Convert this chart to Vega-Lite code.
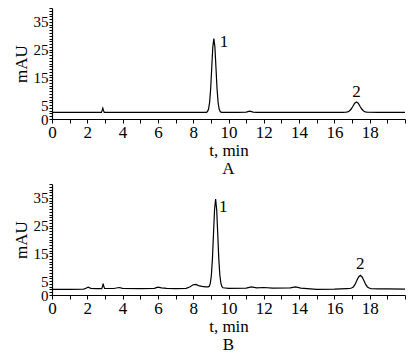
{
  "$schema": "https://vega.github.io/schema/vega-lite/v6.json",
  "padding": {"left": 12, "top": 1, "right": 0, "bottom": 0},
  "background": "white",
  "spacing": 0,
  "config": {
    "font": "Liberation Serif",
    "view": {"stroke": null},
    "axis": {
      "domainColor": "black", "tickColor": "black", "labelColor": "black", "titleColor": "black",
      "labelFont": "Liberation Serif", "titleFont": "Liberation Serif",
      "labelFontSize": 17, "titleFontSize": 17, "titleFontWeight": "normal", "grid": false,
      "labelOverlap": false, "labelBound": false, "tickWidth": 1, "domainWidth": 1.2
    },
    "title": {"font": "Liberation Serif", "fontSize": 17, "fontWeight": "normal", "color": "black"}
  },
  "datasets": {
    "A": [
      {"t": 0, "v": 2.4}, {"t": 1, "v": 2.4}, {"t": 2, "v": 2.4}, {"t": 2.8, "v": 2.4}, {"t": 2.85, "v": 3.2}, {"t": 2.88, "v": 3.9}, {"t": 2.92, "v": 3.0}, {"t": 2.96, "v": 2.4},
      {"t": 4, "v": 2.4}, {"t": 6, "v": 2.4}, {"t": 8, "v": 2.4},
      {"t": 8.75, "v": 2.4}, {"t": 8.81, "v": 2.7}, {"t": 8.87, "v": 3.6}, {"t": 8.93, "v": 6.0}, {"t": 8.99, "v": 11.0}, {"t": 9.05, "v": 18.5}, {"t": 9.11, "v": 25.9}, {"t": 9.17, "v": 29.0}, {"t": 9.23, "v": 25.9}, {"t": 9.29, "v": 18.5}, {"t": 9.35, "v": 11.0}, {"t": 9.41, "v": 6.0}, {"t": 9.47, "v": 3.6}, {"t": 9.53, "v": 2.7}, {"t": 9.59, "v": 2.4},
      {"t": 10.5, "v": 2.4}, {"t": 11.0, "v": 2.5}, {"t": 11.2, "v": 2.8}, {"t": 11.4, "v": 2.5}, {"t": 11.6, "v": 2.4}, {"t": 14, "v": 2.4}, {"t": 16.5, "v": 2.4},
      {"t": 16.65, "v": 2.45}, {"t": 16.75, "v": 2.56}, {"t": 16.85, "v": 2.9}, {"t": 16.95, "v": 3.6}, {"t": 17.05, "v": 4.6}, {"t": 17.15, "v": 5.7}, {"t": 17.25, "v": 6.1}, {"t": 17.35, "v": 5.7}, {"t": 17.45, "v": 4.6}, {"t": 17.55, "v": 3.6}, {"t": 17.65, "v": 2.9}, {"t": 17.75, "v": 2.56}, {"t": 17.85, "v": 2.45},
      {"t": 18.5, "v": 2.4}, {"t": 20, "v": 2.4}
    ],
    "B": [
      {"t": 0, "v": 2.0}, {"t": 1.0, "v": 2.05}, {"t": 1.8, "v": 2.1}, {"t": 1.95, "v": 2.5}, {"t": 2.05, "v": 2.8}, {"t": 2.2, "v": 2.4}, {"t": 2.5, "v": 2.3}, {"t": 2.82, "v": 2.3}, {"t": 2.87, "v": 3.3}, {"t": 2.9, "v": 4.1}, {"t": 2.94, "v": 3.0}, {"t": 2.98, "v": 2.4},
      {"t": 3.5, "v": 2.35}, {"t": 3.8, "v": 2.7}, {"t": 4.0, "v": 2.4}, {"t": 5.0, "v": 2.3}, {"t": 5.8, "v": 2.4}, {"t": 6.0, "v": 2.8}, {"t": 6.2, "v": 2.6}, {"t": 6.5, "v": 2.4}, {"t": 7.0, "v": 2.3}, {"t": 7.6, "v": 2.4}, {"t": 7.8, "v": 2.9}, {"t": 8.0, "v": 3.7}, {"t": 8.15, "v": 3.8}, {"t": 8.3, "v": 3.4}, {"t": 8.5, "v": 3.1}, {"t": 8.7, "v": 2.9},
      {"t": 8.85, "v": 2.95}, {"t": 8.91, "v": 3.15}, {"t": 8.97, "v": 4.2}, {"t": 9.03, "v": 7.1}, {"t": 9.09, "v": 13.1}, {"t": 9.15, "v": 22.1}, {"t": 9.21, "v": 30.8}, {"t": 9.27, "v": 34.6}, {"t": 9.33, "v": 30.8}, {"t": 9.39, "v": 22.1}, {"t": 9.45, "v": 13.1}, {"t": 9.51, "v": 7.1}, {"t": 9.57, "v": 4.2}, {"t": 9.63, "v": 3.0}, {"t": 9.69, "v": 2.6},
      {"t": 10.0, "v": 2.4}, {"t": 11.0, "v": 2.5}, {"t": 11.3, "v": 2.9}, {"t": 11.6, "v": 2.6}, {"t": 12.0, "v": 2.7}, {"t": 12.5, "v": 2.5}, {"t": 13.5, "v": 2.6}, {"t": 13.8, "v": 2.9}, {"t": 14.1, "v": 2.5}, {"t": 15.0, "v": 2.0}, {"t": 16.0, "v": 2.1}, {"t": 16.7, "v": 2.3},
      {"t": 16.87, "v": 2.35}, {"t": 16.97, "v": 2.5}, {"t": 17.07, "v": 2.9}, {"t": 17.17, "v": 3.8}, {"t": 17.27, "v": 5.2}, {"t": 17.37, "v": 6.5}, {"t": 17.47, "v": 7.1}, {"t": 17.57, "v": 6.5}, {"t": 17.67, "v": 5.2}, {"t": 17.77, "v": 3.8}, {"t": 17.87, "v": 2.9}, {"t": 17.97, "v": 2.5}, {"t": 18.07, "v": 2.3},
      {"t": 18.5, "v": 2.2}, {"t": 19, "v": 2.2}, {"t": 20, "v": 2.1}
    ],
    "LA": [{"t": 9.75, "v": 27.7, "label": "1"}, {"t": 17.25, "v": 9.8, "label": "2"}],
    "LB": [{"t": 9.7, "v": 31.8, "label": "1"}, {"t": 17.47, "v": 11.3, "label": "2"}]
  },
  "vconcat": [
    {
      "width": 353, "height": 111,
      "title": {"text": "A", "orient": "bottom", "offset": 3},
      "encoding": {
        "x": {"field": "t", "type": "quantitative", "scale": {"domain": [0, 20], "nice": false, "zero": false},
              "axis": {"title": "t, min", "format": "d", "values": [0,0.5,1,1.5,2,2.5,3,3.5,4,4.5,5,5.5,6,6.5,7,7.5,8,8.5,9,9.5,10,10.5,11,11.5,12,12.5,13,13.5,14,14.5,15,15.5,16,16.5,17,17.5,18,18.5,19,19.5,20],
                       "labelExpr": "datum.value % 2 == 0 && datum.value < 20 ? datum.label : ''", "labelOverlap": false, "tickSize": 4, "tickColor": "black", "ticks": true, "labelPadding": 1, "titlePadding": 2, "labelFlush": false}},
        "y": {"field": "v", "type": "quantitative", "scale": {"domain": [0, 40], "nice": false},
              "axis": {"title": "mAU", "format": "d", "labelFontSize": 15, "values": [0,1,2,3,4,5,6,7,8,9,10,11,12,13,14,15,16,17,18,19,20,21,22,23,24,25,26,27,28,29,30,31,32,33,34,35,36,37,38,39,40],
                       "labelExpr": "indexof([0,5,15,25,35], datum.value) >= 0 ? datum.label : ''", "labelOverlap": false, "tickSize": 3, "tickColor": "black", "ticks": true, "labelPadding": 1, "titlePadding": 3, "labelFlush": false}}
      },
      "layer": [
        {"data": {"name": "A"}, "mark": {"type": "line", "color": "black", "strokeWidth": 1.2}},
        {"data": {"name": "LA"}, "mark": {"type": "text", "fontSize": 17, "font": "Liberation Serif", "color": "black", "align": "center", "baseline": "middle"},
         "encoding": {"text": {"field": "label"}}}
      ]
    },
    {
      "width": 353, "height": 111,
      "title": {"text": "B", "orient": "bottom", "offset": 3},
      "encoding": {
        "x": {"field": "t", "type": "quantitative", "scale": {"domain": [0, 20], "nice": false, "zero": false},
              "axis": {"title": "t, min", "format": "d", "values": [0,0.5,1,1.5,2,2.5,3,3.5,4,4.5,5,5.5,6,6.5,7,7.5,8,8.5,9,9.5,10,10.5,11,11.5,12,12.5,13,13.5,14,14.5,15,15.5,16,16.5,17,17.5,18,18.5,19,19.5,20],
                       "labelExpr": "datum.value % 2 == 0 && datum.value < 20 ? datum.label : ''", "labelOverlap": false, "tickSize": 4, "tickColor": "black", "ticks": true, "labelPadding": 1, "titlePadding": 2, "labelFlush": false}},
        "y": {"field": "v", "type": "quantitative", "scale": {"domain": [0, 40], "nice": false},
              "axis": {"title": "mAU", "format": "d", "labelFontSize": 15, "values": [0,1,2,3,4,5,6,7,8,9,10,11,12,13,14,15,16,17,18,19,20,21,22,23,24,25,26,27,28,29,30,31,32,33,34,35,36,37,38,39,40],
                       "labelExpr": "indexof([0,5,15,25,35], datum.value) >= 0 ? datum.label : ''", "labelOverlap": false, "tickSize": 3, "tickColor": "black", "ticks": true, "labelPadding": 1, "titlePadding": 3, "labelFlush": false}}
      },
      "layer": [
        {"data": {"name": "B"}, "mark": {"type": "line", "color": "black", "strokeWidth": 1.2}},
        {"data": {"name": "LB"}, "mark": {"type": "text", "fontSize": 17, "font": "Liberation Serif", "color": "black", "align": "center", "baseline": "middle"},
         "encoding": {"text": {"field": "label"}}}
      ]
    }
  ]
}
